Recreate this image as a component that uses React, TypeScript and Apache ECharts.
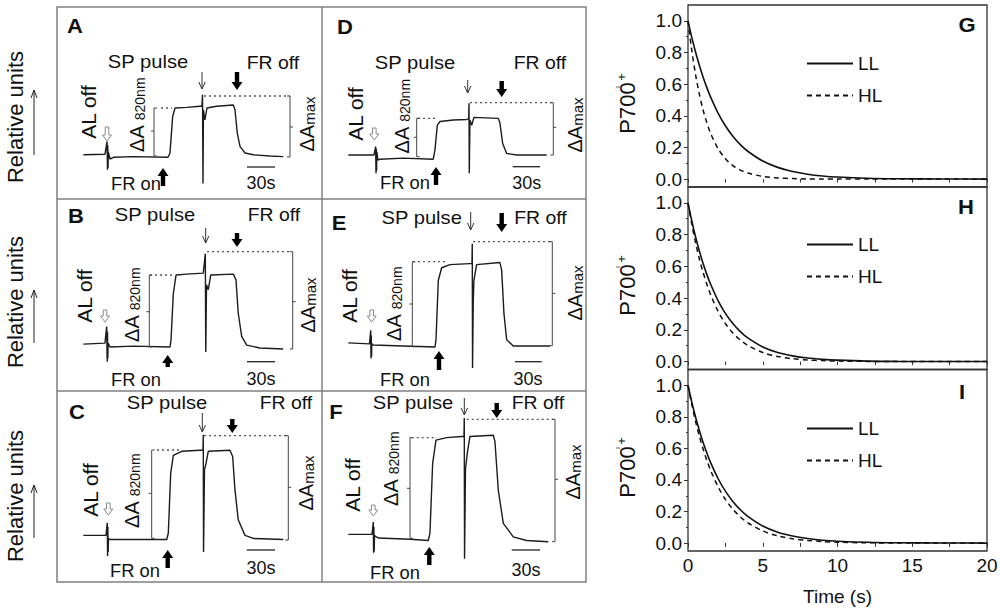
import React, { useEffect, useRef } from "react";
import * as echarts from "echarts";

const FONT = '"Liberation Sans", Arial, Helvetica, sans-serif';
const INK = "#111";

// ---------- Data: P700 redox traces (time in s, signal relative to ΔAmax) ----------
const tA = [28.3, 51.6, 53.8, 54.3, 54.6, 54.9, 55.2, 57.0, 61.3, 81.7, 119.4, 121.5, 124.4, 126.9, 139.5, 153.8, 155.9, 156.5, 157.0, 157.5, 159.1, 161.3, 171.7, 189.6, 191.4, 193.9, 196.8, 202.2, 211.1, 229.0, 243.3];
const vA = [0.02, 0.03, 0.24, -0.23, 0.18, -0.2, 0.07, -0.05, -0.02, -0.01, -0.02, 0.05, 0.66, 0.8, 0.81, 0.83, 0.83, 1.02, -0.46, 0.77, 0.6, 0.8, 0.83, 0.85, 0.77, 0.38, 0.16, 0.05, 0.02, 0.0, -0.01];

const tB = [28.3, 51.6, 53.4, 54.0, 54.3, 54.6, 55.0, 57.0, 82.0, 121.5, 122.6, 125.1, 128.0, 139.5, 157.3, 159.5, 160.0, 160.8, 162.7, 165.3, 189.6, 192.5, 194.9, 198.6, 204.0, 218.3, 243.3];
const vB = [0.05, 0.06, 0.23, -0.13, 0.18, -0.1, 0.06, 0.02, 0.03, 0.02, 0.09, 0.57, 0.76, 0.77, 0.78, 0.98, -0.03, 0.66, 0.61, 0.76, 0.77, 0.71, 0.37, 0.13, 0.04, 0.01, 0.0];

const tC = [28.3, 52.7, 54.1, 54.4, 54.7, 55.0, 55.4, 57.0, 82.0, 118.0, 119.7, 122.3, 125.1, 134.1, 153.8, 157.0, 157.3, 157.6, 158.6, 160.2, 162.7, 186.0, 188.9, 191.4, 194.9, 202.2, 211.1, 243.3];
const vC = [0.04, 0.04, 0.16, -0.16, 0.12, -0.12, 0.01, 0.0, 0.0, 0.0, 0.06, 0.64, 0.81, 0.85, 0.86, 0.86, 1.01, -0.12, 0.67, 0.73, 0.85, 0.86, 0.8, 0.48, 0.19, 0.04, 0.01, 0.0];

const tD = [28.3, 55.9, 57.7, 58.1, 58.4, 58.7, 59.0, 60.2, 62.4, 87.4, 119.7, 121.5, 124.0, 126.9, 141.2, 155.6, 157.7, 158.1, 158.4, 159.1, 161.0, 163.4, 189.6, 191.4, 194.3, 198.6, 209.4, 241.6];
const vD = [0.0, 0.0, 0.16, -0.35, 0.12, -0.3, 0.06, -0.1, -0.08, -0.06, -0.08, 0.1, 0.57, 0.64, 0.67, 0.68, 0.69, 0.99, -0.35, 0.67, 0.57, 0.72, 0.7, 0.61, 0.22, 0.03, 0.0, 0.0];

const tE = [28.3, 51.1, 52.4, 52.7, 53.0, 53.3, 53.6, 55.2, 87.4, 121.5, 122.6, 125.1, 128.7, 137.6, 159.1, 161.3, 161.6, 161.9, 162.7, 163.4, 166.3, 191.4, 193.2, 195.7, 198.6, 205.7, 245.2];
const vE = [0.03, 0.02, 0.15, -0.12, 0.1, -0.1, 0.02, 0.01, 0.0, -0.01, 0.06, 0.63, 0.75, 0.78, 0.79, 0.79, 0.98, -0.21, 0.44, 0.63, 0.78, 0.8, 0.73, 0.31, 0.06, 0.0, 0.0];

const tF = [28.3, 53.8, 55.2, 55.5, 55.8, 56.1, 56.5, 60.5, 94.6, 114.3, 116.1, 119.0, 122.6, 134.1, 150.2, 152.7, 153.0, 153.3, 154.3, 156.2, 159.1, 184.2, 186.0, 189.6, 195.0, 205.7, 220.1, 243.3];
const vF = [0.06, 0.06, 0.16, -0.09, 0.12, -0.08, 0.05, 0.03, 0.02, 0.01, 0.07, 0.64, 0.83, 0.85, 0.86, 0.86, 1.01, -0.14, 0.59, 0.72, 0.86, 0.87, 0.82, 0.42, 0.15, 0.04, 0.01, 0.0];

// ---------- Data: P700+ re-reduction kinetics ----------
const decayTime = [0, 0.25, 0.5, 0.75, 1, 1.25, 1.5, 2, 2.5, 3, 3.5, 4, 5, 6, 7, 8, 9, 10, 12, 14, 17, 20];
const gLL = [1, 0.897, 0.805, 0.722, 0.647, 0.581, 0.521, 0.419, 0.337, 0.271, 0.218, 0.176, 0.114, 0.074, 0.048, 0.031, 0.02, 0.013, 0.005, 0.002, 0.001, 0];
const gHL = [1, 0.815, 0.664, 0.541, 0.44, 0.359, 0.292, 0.194, 0.129, 0.085, 0.057, 0.038, 0.017, 0.007, 0.003, 0.001, 0.001, 0, 0, 0, 0, 0];
const hLL = [1, 0.888, 0.788, 0.7, 0.621, 0.551, 0.49, 0.386, 0.304, 0.24, 0.189, 0.149, 0.092, 0.057, 0.036, 0.022, 0.014, 0.009, 0.003, 0.001, 0, 0];
const hHL = [1, 0.867, 0.751, 0.651, 0.565, 0.49, 0.424, 0.319, 0.24, 0.18, 0.135, 0.102, 0.057, 0.032, 0.018, 0.01, 0.006, 0.003, 0.001, 0, 0, 0];
const iLL = [1, 0.895, 0.801, 0.717, 0.641, 0.574, 0.513, 0.411, 0.329, 0.264, 0.211, 0.169, 0.108, 0.069, 0.045, 0.029, 0.018, 0.012, 0.005, 0.002, 0.001, 0];
const iHL = [1, 0.88, 0.774, 0.681, 0.599, 0.527, 0.463, 0.359, 0.277, 0.215, 0.166, 0.129, 0.077, 0.046, 0.028, 0.017, 0.01, 0.006, 0.002, 0.001, 0, 0];

const yTickValues = [0, 0.2, 0.4, 0.6, 0.8, 1.0];
const yMinorValues = [0.1, 0.3, 0.5, 0.7, 0.9];
const xTickValues = [0, 2.5, 5, 7.5, 10, 12.5, 15, 17.5, 20];
const xLabelValues = [0, 5, 10, 15, 20];
const legendNames = ["LL", "HL"];

// ---------- Layout of the six trace panels (pixels) ----------
type P = {
  letter: string; t: number[]; v: number[]; left: number; top: number; height: number;
  ltr: number[]; sp: number[]; spA: number[]; fo: number[]; foA: number[];
  d820: number[]; b820: number[]; dMax: number[]; bMax: number[];
  al: number[]; alA: number[]; dA: number[]; dAm: number[];
  fon: number[]; fonA: number[]; bar: number[]; s30: number[];
};

const PANELS: P[] = [
  { letter: "A", t: tA, v: vA, left: 57, top: 96, height: 60,
    ltr: [75, 26], sp: [148, 62], spA: [202, 72, 89], fo: [273, 63], foA: [237, 72, 90],
    d820: [161, 172, 108], b820: [154, 108, 156, 131], dMax: [204, 290, 96], bMax: [290, 96, 157, 127],
    al: [88, 112], alA: [107, 127, 141], dA: [137, 115], dAm: [307, 124],
    fon: [136, 184], fonA: [163, 186, 168], bar: [247, 275, 167], s30: [261, 183] },
  { letter: "B", t: tB, v: vB, left: 57, top: 251.7, height: 97.3,
    ltr: [76, 216], sp: [155, 215], spA: [205.7, 228, 243], fo: [274, 215], foA: [237, 233, 247],
    d820: [150, 173, 275], b820: [149.3, 275, 347, 311.7], dMax: [207, 290, 251.7], bMax: [292.7, 251.7, 349, 301.7],
    al: [84, 296], alA: [105, 310, 322], dA: [132, 305], dAm: [308, 305],
    fon: [136, 380], fonA: [167.7, 367, 355], bar: [247, 275, 361.7], s30: [261, 379] },
  { letter: "C", t: tC, v: vC, left: 57, top: 435.7, height: 103.8,
    ltr: [77, 412], sp: [167, 403], spA: [202.3, 413, 432], fo: [286, 403], foA: [232.3, 419, 433],
    d820: [157, 180, 450], b820: [151.7, 450, 538.3, 493.3], dMax: [204, 287, 435.7], bMax: [288.3, 435.7, 540, 487.3],
    al: [90, 490], alA: [108.3, 503, 515], dA: [132, 491], dAm: [306, 483],
    fon: [135, 571], fonA: [167.7, 568, 550], bar: [246.7, 275, 550], s30: [261, 568] },
  { letter: "D", t: tD, v: vD, left: 322, top: 102.7, height: 52.3,
    ltr: [345, 27], sp: [415, 63], spA: [467.7, 80, 93], fo: [540, 63], foA: [501.7, 81, 97],
    d820: [418, 435, 118.3], b820: [416.7, 118.3, 156.7, 137.3], dMax: [470, 551.7, 102.7], bMax: [553.3, 102.7, 155, 127.3],
    al: [355, 114], alA: [374.3, 128, 140], dA: [402, 116.5], dAm: [575, 125],
    fon: [405, 183], fonA: [436, 185, 167], bar: [512.7, 540, 166.7], s30: [526.7, 183] },
  { letter: "E", t: tE, v: vE, left: 322, top: 241.7, height: 104.3,
    ltr: [339, 223], sp: [421.7, 218], spA: [470.7, 212, 230], fo: [540.5, 218], foA: [501.7, 213, 232],
    d820: [413, 447, 261.7], b820: [412.3, 261.7, 346.7, 304], dMax: [473, 550, 241.7], bMax: [552.3, 241.7, 345.7, 293.3],
    al: [349, 296], alA: [371.7, 310, 322], dA: [394, 304], dAm: [575, 293],
    fon: [405, 380], fonA: [439, 370, 351], bar: [515, 541.7, 361.7], s30: [528, 379] },
  { letter: "F", t: tF, v: vF, left: 322, top: 419.3, height: 122.4,
    ltr: [336, 412], sp: [413, 403], spA: [464.3, 398, 415], fo: [538, 403], foA: [496.7, 403, 418],
    d820: [411.7, 437, 437.7], b820: [410, 437.7, 538.3, 488.3], dMax: [466.7, 553.3, 419.3], bMax: [555, 419.3, 541.7, 479.3],
    al: [352, 485], alA: [373.3, 505, 516], dA: [391, 469], dAm: [573, 472],
    fon: [395, 573], fonA: [429.3, 565, 547], bar: [511.7, 540, 550], s30: [526, 570] },
];

const RIGHT = [
  { letter: "G", top: 5, height: 182, ll: gLL, hl: gHL, ltr: [967, 25], nameY: 108, legendTop: 54, last: false },
  { letter: "H", top: 187, height: 182.5, ll: hLL, hl: hHL, ltr: [966, 207], nameY: 290, legendTop: 235, last: false },
  { letter: "I", top: 369.5, height: 181.5, ll: iLL, hl: iHL, ltr: [962, 392], nameY: 472, legendTop: 419, last: true },
];

// ---------- graphic helpers ----------
const ln = (x1: number, y1: number, x2: number, y2: number, stroke = "#333", w = 1, dash?: number[]) => ({
  type: "line", shape: { x1, y1, x2, y2 }, style: { stroke, lineWidth: w, lineDash: dash }, silent: true, z: 5,
});
const pl = (points: number[][], stroke = "#333", w = 1) => ({
  type: "polyline", shape: { points }, style: { stroke, lineWidth: w, fill: null }, silent: true, z: 5,
});
const pg = (points: number[][], fill: string, stroke?: string, w = 1) => ({
  type: "polygon", shape: { points }, style: { fill, stroke, lineWidth: w }, silent: true, z: 6,
});
const tx = (x: number, y: number, text: string, size: number, o: any = {}) => ({
  type: "text", x, y,
  rotation: o.rot ? Math.PI / 2 : 0,
  scaleX: o.rot ? 1 : o.sx ?? 1,
  scaleY: o.rot ? o.sx ?? 1 : 1,
  style: {
    text, fontSize: size, fontFamily: FONT, fontWeight: o.bold ? "bold" : "normal",
    fill: INK, align: "center", verticalAlign: "middle", rich: o.rich,
  },
  silent: true, z: 10,
});
const thinArrow = (x: number, y1: number, y2: number) => [
  ln(x, y1, x, y2, "#333", 1),
  pl([[x - 3.2, y2 - 7], [x, y2], [x + 3.2, y2 - 7]], "#333", 1),
];
const thickArrow = (x: number, yTail: number, yHead: number) => {
  const d = Math.sign(yHead - yTail);
  const hb = yHead - d * 8;
  return pg([[x - 2.2, yTail], [x + 2.2, yTail], [x + 2.2, hb], [x + 5.5, hb], [x, yHead], [x - 5.5, hb], [x - 2.2, hb]], "#000");
};
const hollowArrow = (x: number, y1: number, y2: number) => {
  const hb = y2 - 6;
  return pg([[x - 1.8, y1], [x + 1.8, y1], [x + 1.8, hb], [x + 4.5, hb], [x, y2], [x - 4.5, hb], [x - 1.8, hb]], "#fff", "#8a8a8a", 1);
};

function buildOption() {
  const grids: any[] = [];
  const xAxes: any[] = [];
  const yAxes: any[] = [];
  const series: any[] = [];
  const legends: any[] = [];
  const g: any[] = [];

  // left frame
  g.push({ type: "rect", shape: { x: 57, y: 7, width: 529, height: 575 }, style: { fill: "none", stroke: "#808080", lineWidth: 1.5 }, silent: true });
  g.push(ln(322, 7, 322, 582, "#808080", 1.5));
  g.push(ln(57, 199, 586, 199, "#808080", 1.5));
  g.push(ln(57, 391, 586, 391, "#808080", 1.5));

  // "Relative units" labels
  [[117, 155, 90], [302, 343, 290], [496, 538, 485]].forEach(([cy, a1, a2]) => {
    g.push(tx(15, cy, "Relative units", 22, { rot: true }));
    g.push(ln(34, a1, 34, a2, "#222", 1));
    g.push(pl([[31, a2 + 8], [34, a2], [37, a2 + 8]], "#222", 1));
  });

  // stray marks right of D/E/F
  [87, 267, 448].forEach((y) => g.push(ln(616, y, 620, y, "#666", 1)));

  const richDA = (big: number, small: number) => ({
    a: { fontSize: big, fontFamily: FONT, fill: INK },
    b: { fontSize: small, fontFamily: FONT, fill: INK, verticalAlign: "bottom" },
  });

  PANELS.forEach((p, i) => {
    grids.push({ left: p.left, top: p.top, width: 265, height: p.height, show: false, containLabel: false, outerBoundsMode: "none" });
    xAxes.push({ type: "value", gridIndex: i, min: 0, max: 285, show: false });
    yAxes.push({ type: "value", gridIndex: i, min: 0, max: 1, show: false });
    series.push({
      type: "line", name: "trace " + p.letter, xAxisIndex: i, yAxisIndex: i,
      data: p.t.map((t, k) => [t, p.v[k]]),
      symbol: "none", showSymbol: false, clip: false, silent: true,
      lineStyle: { color: "#1c1c1c", width: 1.4 },
    });

    g.push(tx(p.ltr[0], p.ltr[1], p.letter, 20, { bold: true, sx: 1.1 }));
    g.push(tx(p.sp[0], p.sp[1], "SP pulse", 18, { sx: 1.12 }));
    g.push(...thinArrow(p.spA[0], p.spA[1], p.spA[2]));
    g.push(tx(p.fo[0], p.fo[1], "FR off", 18, { sx: 1.08 }));
    g.push(thickArrow(p.foA[0], p.foA[1], p.foA[2]));
    g.push(tx(p.fon[0], p.fon[1], "FR on", 18, { sx: 1.02 }));
    g.push(thickArrow(p.fonA[0], p.fonA[1], p.fonA[2]));
    g.push(tx(p.al[0], p.al[1], "AL off", 21, { rot: true }));
    g.push(hollowArrow(p.alA[0], p.alA[1], p.alA[2]));
    g.push(tx(p.dA[0], p.dA[1], "{a|ΔA }{b|820nm}", 20, { rot: true, rich: richDA(20, 14) }));
    g.push(tx(p.dAm[0], p.dAm[1], "{a|ΔA}{b|max}", 20, { rot: true, rich: richDA(20, 15) }));
    // dotted level lines
    g.push(ln(p.d820[0], p.d820[2], p.d820[1], p.d820[2], "#555", 1.3, [2, 3]));
    g.push(ln(p.dMax[0], p.dMax[2], p.dMax[1], p.dMax[2], "#555", 1.3, [2, 3]));
    // brackets
    const [bx, bt, bb, bm] = p.b820;
    g.push(pl([[bx + 3, bt], [bx, bt], [bx, bb], [bx + 3, bb]], "#444", 1));
    g.push(ln(bx - 3, bm, bx, bm, "#444", 1));
    const [mx, mt, mb, mm] = p.bMax;
    g.push(pl([[mx - 3, mt], [mx, mt], [mx, mb], [mx - 3, mb]], "#444", 1));
    g.push(ln(mx, mm, mx + 3, mm, "#444", 1));
    // 30 s scale bar
    g.push(ln(p.bar[0], p.bar[2], p.bar[1], p.bar[2], "#222", 1.3));
    g.push(tx(p.s30[0], p.s30[1], "30s", 18));
  });

  RIGHT.forEach((r, j) => {
    const gi = 6 + j;
    grids.push({
      left: 688, top: r.top, width: 299, height: r.height, show: true,
      borderColor: "#333", borderWidth: 1.3, backgroundColor: "transparent",
      containLabel: false, outerBoundsMode: "none",
    });
    const xb = xAxes.length;
    xAxes.push({
      type: "value", gridIndex: gi, position: "bottom", min: 0, max: 20,
      axisLine: { show: false }, splitLine: { show: false },
      axisTick: { show: r.last, inside: false, length: 3.5, customValues: xTickValues, lineStyle: { color: "#333" } },
      axisLabel: { show: r.last, customValues: xLabelValues, fontSize: 19, fontFamily: FONT, color: INK, margin: 5 },
      name: r.last ? "Time (s)" : "", nameLocation: "middle", nameGap: 36,
      nameTextStyle: { fontSize: 19, fontFamily: FONT, color: INK },
    });
    xAxes.push({
      type: "value", gridIndex: gi, position: "top", min: 0, max: 20,
      axisLine: { show: false }, splitLine: { show: false },
      axisTick: { show: true, inside: true, length: 3.5, customValues: xTickValues, lineStyle: { color: "#333" } },
      axisLabel: { show: false },
    });
    const yb = yAxes.length;
    yAxes.push({
      type: "value", gridIndex: gi, position: "left", min: -0.05, max: 1.1,
      axisLine: { show: false }, splitLine: { show: false },
      axisTick: { show: true, inside: false, length: 4, customValues: yTickValues, lineStyle: { color: "#333" } },
      axisLabel: { customValues: yTickValues, formatter: (v: number) => v.toFixed(1), fontSize: 19, fontFamily: FONT, color: INK, margin: 6 },
    });
    yAxes.push({
      type: "value", gridIndex: gi, position: "left", offset: 0, min: -0.05, max: 1.1,
      axisLine: { show: false }, splitLine: { show: false },
      axisTick: { show: true, inside: false, length: 2, customValues: yMinorValues, lineStyle: { color: "#333" } },
      axisLabel: { show: false },
    });
    series.push({
      type: "line", name: legendNames[0], xAxisIndex: xb, yAxisIndex: yb,
      data: decayTime.map((t, k) => [t, r.ll[k]]),
      smooth: 0.3, symbol: "none", showSymbol: false,
      itemStyle: { color: INK },
      lineStyle: { color: INK, width: 1.6, type: "solid" },
    });
    series.push({
      type: "line", name: legendNames[1], xAxisIndex: xb, yAxisIndex: yb,
      data: decayTime.map((t, k) => [t, r.hl[k]]),
      smooth: 0.3, symbol: "none", showSymbol: false,
      itemStyle: { color: INK },
      lineStyle: { color: INK, width: 1.5, type: [5, 4] },
    });
    legends.push({
      orient: "vertical", left: 806, top: r.legendTop, itemWidth: 46, itemHeight: 14, itemGap: 13,
      padding: 0, selectedMode: false, data: legendNames,
      itemStyle: { opacity: 0, borderWidth: 0 },
      textStyle: { fontSize: 19, fontFamily: FONT, color: INK },
    });
    g.push(tx(r.ltr[0], r.ltr[1], r.letter, 20, { bold: true, sx: 1.1 }));
    g.push(tx(627, r.nameY, "P700", 22, { rot: true }));
    g.push(tx(621, r.nameY - 31, "+", 13, { rot: true }));
  });

  return {
    animation: false,
    backgroundColor: "#fff",
    grid: grids,
    xAxis: xAxes,
    yAxis: yAxes,
    legend: legends,
    series,
    graphic: { elements: g },
  };
}

export default function App() {
  const ref = useRef<HTMLDivElement>(null);
  useEffect(() => {
    const chart = echarts.init(ref.current!, null, { renderer: "svg" });
    chart.setOption(buildOption() as any);
    return () => chart.dispose();
  }, []);
  return (
    <div
      ref={ref}
      style={{ position: "absolute", left: 0, top: 0, width: 1000, height: 614, background: "#fff" }}
    />
  );
}
